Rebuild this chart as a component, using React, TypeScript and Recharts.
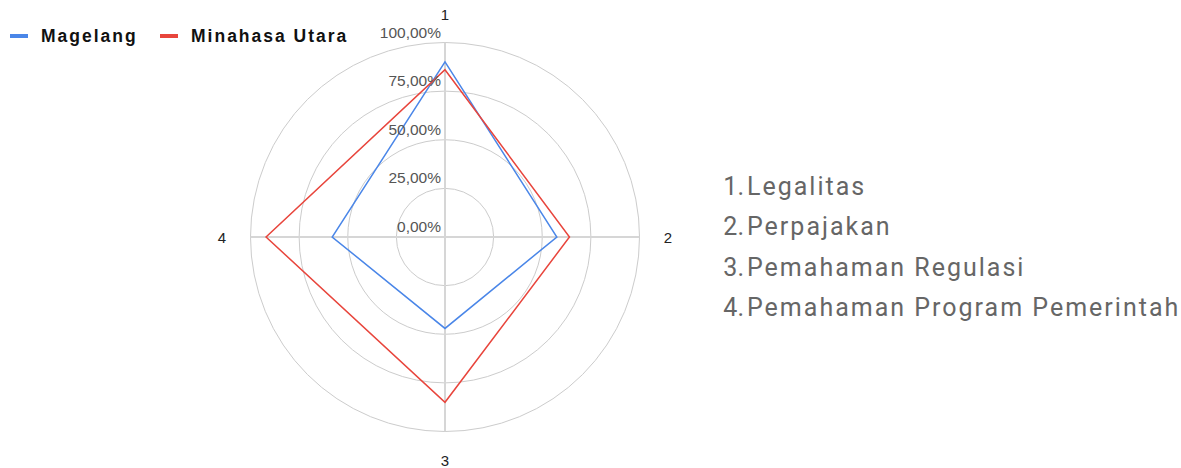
import { RadarChart, Radar, PolarGrid, PolarAngleAxis, PolarRadiusAxis } from 'recharts'

const aspects = ['1', '2', '3', '4']
const magelang = [0.9, 0.575, 0.47, 0.58]
const minahasaUtara = [0.86, 0.64, 0.85, 0.92]
const radiusTicks = [0, 0.25, 0.5, 0.75, 1]
const notes = ['Legalitas', 'Perpajakan', 'Pemahaman Regulasi', 'Pemahaman Program Pemerintah']

const COLORS = {
  magelang: '#4a86e8',
  minahasa: '#e8453c',
}

const data = aspects.map((a, i) => ({
  aspect: a,
  magelang: magelang[i],
  minahasa: minahasaUtara[i],
}))

const fmtPct = (v: number) => (v * 100).toFixed(2).replace('.', ',') + '%'

// push the category labels a bit further out than recharts does by default
function AngleTick(props: any) {
  const { x, y, cx, cy, payload } = props
  const dx = x - cx
  const dy = y - cy
  const len = Math.sqrt(dx * dx + dy * dy) || 1
  const r = 223
  return (
    <text
      x={cx + (dx / len) * r}
      y={cy + (dy / len) * r}
      textAnchor="middle"
      dominantBaseline="central"
      fontSize={15}
      fontFamily="Arial, 'Liberation Sans', sans-serif"
      fill="#222"
    >
      {payload.value}
    </text>
  )
}

function RadiusTick(props: any) {
  const { x, y, payload } = props
  return (
    <text
      x={x - 4}
      y={y - 5}
      textAnchor="end"
      fontSize={15.5}
      fontFamily="Arial, 'Liberation Sans', sans-serif"
      fill="#555"
    >
      {fmtPct(payload.value)}
    </text>
  )
}

export default function App() {
  const legend = [
    { name: 'Magelang', color: COLORS.magelang, x: 10 },
    { name: 'Minahasa Utara', color: COLORS.minahasa, x: 160 },
  ]

  return (
    <div style={{ position: 'absolute', left: 0, top: 0, width: 1181, height: 468, background: '#fff' }}>
      <RadarChart
        width={900}
        height={468}
        data={data}
        cx={445}
        cy={237}
        outerRadius={194.5}
        margin={{ top: 0, right: 0, bottom: 0, left: 0 }}
      >
        <PolarGrid gridType="circle" radialLines={false} stroke="#cccccc" strokeWidth={1} />
        <PolarGrid gridType="circle" polarRadius={[]} stroke="#d6d6d6" strokeWidth={2} />
        <PolarAngleAxis dataKey="aspect" tick={<AngleTick />} tickLine={false} axisLine={false} />
        <PolarRadiusAxis
          angle={90}
          domain={[0, 1]}
          ticks={radiusTicks}
          tick={<RadiusTick />}
          axisLine={false}
          tickLine={false}
        />
        <Radar
          name="Magelang"
          dataKey="magelang"
          stroke={COLORS.magelang}
          strokeWidth={1.5}
          fill="none"
          fillOpacity={0}
          dot={false}
          isAnimationActive={false}
        />
        <Radar
          name="Minahasa Utara"
          dataKey="minahasa"
          stroke={COLORS.minahasa}
          strokeWidth={1.5}
          fill="none"
          fillOpacity={0}
          dot={false}
          isAnimationActive={false}
        />
      </RadarChart>

      {legend.map((l) => (
        <div
          key={l.name}
          style={{ position: 'absolute', left: l.x, top: 26, height: 20, display: 'flex', alignItems: 'center' }}
        >
          <span style={{ width: 18, height: 4, background: l.color, marginRight: 13 }} />
          <span
            style={{
              fontFamily: "Arial, 'Liberation Sans', sans-serif",
              fontWeight: 'bold',
              fontSize: 17.5,
              letterSpacing: 2,
              color: '#111',
            }}
          >
            {l.name}
          </span>
        </div>
      ))}

      <div style={{ position: 'absolute', left: 700, top: 171, fontFamily: "Roboto, sans-serif", fontSize: 25, color: '#666', letterSpacing: 2 }}>
        {notes.map((n, i) => (
          <div key={n} style={{ display: 'flex', height: 40.3, lineHeight: '32px', whiteSpace: 'nowrap' }}>
            <span style={{ width: 44, textAlign: 'right', letterSpacing: 0 }}>{i + 1}.</span>
            <span style={{ marginLeft: 3 }}>{n}</span>
          </div>
        ))}
      </div>
    </div>
  )
}
